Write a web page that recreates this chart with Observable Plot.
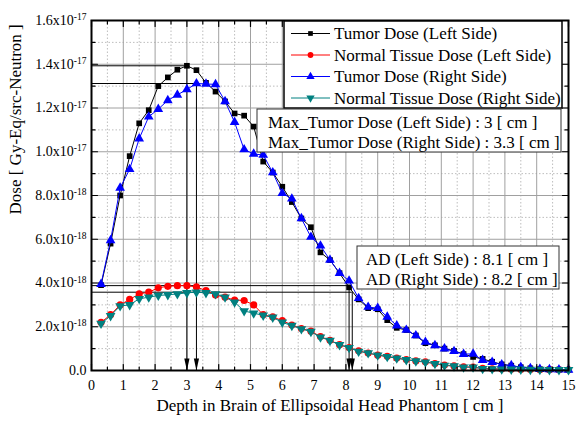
<!DOCTYPE html>
<html><head><meta charset="utf-8">
<script src="https://cdn.jsdelivr.net/npm/d3@7"></script>
<script src="https://cdn.jsdelivr.net/npm/@observablehq/plot@0.6"></script>
<style>body{margin:0;background:#fff} svg text{font-family:"Liberation Serif",serif;}</style>
</head><body><div id="chart"></div>
<script>
// Depth [cm]
const depth = [0.3,0.6,0.9,1.2,1.5,1.8,2.1,2.4,2.7,3.0,3.3,3.6,3.9,4.2,4.5,4.8,5.1,5.4,5.7,6.0,
  6.3,6.6,6.9,7.2,7.5,7.8,8.1,8.4,8.7,9.0,9.3,9.6,9.9,10.2,10.5,10.8,11.1,11.4,11.7,12.0,
  12.3,12.6,12.9,13.2,13.5,13.8,14.1,14.4,14.7,15.0];
// Dose values in units of 1e-18 Gy-Eq/src-Neutron
const tumorLeft = [3.9,5.8,8.0,9.8,11.3,11.9,13.0,13.4,13.75,13.93,13.73,13.15,12.75,12.3,11.75,11.65,11.15,9.55,9.05,8.4,
  7.7,6.95,6.55,5.4,5.05,4.45,3.8,3.25,2.85,2.8,2.3,1.95,1.85,1.6,1.25,1.15,1.0,0.9,0.75,0.62,
  0.53,0.4,0.28,0.22,0.15,0.1,0.06,0.05,0.04,0.03];
const normalLeft = [2.2,2.55,3.0,3.25,3.5,3.58,3.78,3.85,3.88,3.88,3.82,3.65,3.45,3.35,3.22,3.2,3.0,2.55,2.45,2.28,
  2.08,1.92,1.8,1.55,1.38,1.18,1.05,0.9,0.8,0.7,0.65,0.57,0.5,0.44,0.4,0.32,0.25,0.21,0.17,0.15,
  0.1,0.08,0.07,0.06,0.05,0.05,0.04,0.04,0.03,0.03];
const tumorRight = [3.95,5.95,8.35,9.2,10.6,11.6,11.95,12.35,12.6,12.85,13.12,13.1,13.08,12.3,11.35,10.1,9.9,9.85,9.05,8.1,
  7.85,6.95,6.1,5.7,5.05,4.45,4.1,3.3,2.9,2.85,2.45,2.05,1.85,1.6,1.3,1.15,1.0,0.88,0.75,0.76,
  0.47,0.38,0.27,0.23,0.15,0.1,0.06,0.05,0.04,0.03];
const normalRight = [2.15,2.5,2.95,3.0,3.28,3.35,3.43,3.46,3.5,3.55,3.58,3.55,3.5,3.35,3.12,2.72,2.62,2.52,2.43,2.2,
  2.05,1.9,1.78,1.52,1.37,1.17,1.04,0.87,0.8,0.7,0.63,0.56,0.49,0.43,0.38,0.31,0.23,0.2,0.15,0.15,
  0.08,0.07,0.06,0.05,0.05,0.04,0.04,0.03,0.03,0.03];

const seriesNames = ["Tumor Dose (Left Side)","Normal Tissue Dose (Left Side)","Tumor Dose (Right Side)","Normal Tissue Dose (Right Side)"];
const seriesColors = ["#000000","#ff0000","#0000ff","#008080"];

const xTicks = [0,1,2,3,4,5,6,7,8,9,10,11,12,13,14,15];
const xMinorTicks = [0.5,1.5,2.5,3.5,4.5,5.5,6.5,7.5,8.5,9.5,10.5,11.5,12.5,13.5,14.5];
const yTicks = [0,2,4,6,8,10,12,14,16];
const yMinorTicks = [1,3,5,7,9,11,13,15];
const yTickMantissa = ["0.0","2.0","4.0","6.0","8.0","1.0","1.2","1.4","1.6"];
const yTickExponent = ["","-18","-18","-18","-18","-17","-17","-17","-17"];

const maxTumorDepth = [3, 3.3];   // Max_Tumor Dose depths [cm]
const adDepth = [8.1, 8.2];       // AD depths [cm]
const sideNames = ["Left Side", "Right Side"];

const xLabel = "Depth in Brain of Ellipsoidal Head Phantom [ cm ]";
const yLabel = "Dose [ Gy-Eq/src-Neutron ]";

// tables built from the arrays
const rows = depth.map((x, i) => ({x, tl: tumorLeft[i], nl: normalLeft[i], tr: tumorRight[i], nr: normalRight[i]}));
const guides = [
  {x: maxTumorDepth[0], y: d3.max(tumorLeft)},
  {x: maxTumorDepth[1], y: d3.max(tumorRight)},
  {x: adDepth[0], y: d3.max(normalLeft)},
  {x: adDepth[1], y: d3.max(normalRight)}
];

const font = "Liberation Serif";
const tickShape = {draw(ctx, l) { ctx.moveTo(0, 0); ctx.lineTo(0, -l); }};
const arrowHead = {draw(ctx) { ctx.moveTo(0, 0); ctx.lineTo(-2.6, -12); ctx.lineTo(2.6, -12); ctx.closePath(); }};

function series(key, color, symbol, r, extra = {}) {
  return [
    Plot.line(rows, {x: "x", y: key, stroke: color, strokeWidth: 1}),
    Plot.dot(rows, {x: "x", y: key, fill: color, stroke: "none", symbol, r, ...extra})
  ];
}

const tk = (data, o) => Plot.vector(data, {anchor: "start", shape: tickShape, stroke: "black", strokeWidth: 1.2, ...o});

const chart = Plot.plot({
  width: 576,
  height: 421,
  marginLeft: 91,
  marginRight: 8,
  marginTop: 20,
  marginBottom: 51,
  style: "font-family: 'Liberation Serif', serif; font-size: 14px; background: white; color: black;",
  x: {domain: [0, 15]},
  y: {domain: [0, 16]},
  marks: [
    Plot.ruleX(xMinorTicks, {stroke: "#bdbdbd", strokeDasharray: "1.5,2"}),
    Plot.ruleY(yMinorTicks, {stroke: "#bdbdbd", strokeDasharray: "1.5,2"}),
    Plot.ruleX(xTicks, {stroke: "#a0a0a0"}),
    Plot.ruleY(yTicks, {stroke: "#a0a0a0"}),
    Plot.axisX({ticks: xTicks, tickSize: 0, tickPadding: 10, label: null, tickFormat: d => String(d), fontSize: 14}),
    Plot.axisY({ticks: yTicks, tickSize: 0, tickPadding: 5, label: null, fontSize: 14,
      tickFormat: d => { const i = yTicks.indexOf(d); return yTickExponent[i] ? yTickMantissa[i] + "x10^" + yTickExponent[i] : yTickMantissa[i]; }}),
    Plot.text([xLabel], {frameAnchor: "bottom", dy: 40, fontSize: 17, fill: "black"}),
    Plot.text([yLabel], {frameAnchor: "left", dx: -76, dy: 19, rotate: -90, fontSize: 17, fill: "black"}),
    Plot.ruleY(guides, {y: "y", x1: 0, x2: "x", stroke: "black", strokeWidth: 1}),
    Plot.ruleX(guides, {x: "x", y1: 0, y2: "y", stroke: "black", strokeWidth: 1}),
    Plot.dot(guides, {x: "x", y: 0, symbol: arrowHead, fill: "black", stroke: "none", r: 3}),
    ...series("tl", seriesColors[0], "square", 3.2),
    ...series("nl", seriesColors[1], "circle", 3.6),
    ...series("tr", seriesColors[2], "triangle", 3.6),
    ...series("nr", seriesColors[3], "triangle", 3.6, {rotate: 180}),
    tk(xTicks, {x: d => d, y: 0, length: 6, rotate: 0}),
    tk(xMinorTicks, {x: d => d, y: 0, length: 3.5, rotate: 0}),
    tk(xTicks, {x: d => d, y: 16, length: 6, rotate: 180}),
    tk(xMinorTicks, {x: d => d, y: 16, length: 3.5, rotate: 180}),
    tk(yTicks, {x: 0, y: d => d, length: 6, rotate: 90}),
    tk(yMinorTicks, {x: 0, y: d => d, length: 3.5, rotate: 90}),
    tk(yTicks, {x: 15, y: d => d, length: 6, rotate: 270}),
    tk(yMinorTicks, {x: 15, y: d => d, length: 3.5, rotate: 270}),
    Plot.frame({stroke: "black", strokeWidth: 2})
  ]
});

document.getElementById("chart").appendChild(chart);
const svg = d3.select(chart);
svg.style("font-family", "'Liberation Serif', serif");

// superscript exponents on y tick labels
svg.selectAll('g[aria-label="y-axis tick label"] text').each(function() {
  const t = d3.select(this);
  const s = t.text();
  if (!s.includes("^")) return;
  const [a, b] = s.split("^");
  t.text(a);
  t.append("tspan").attr("dy", "-0.5em").attr("font-size", "9.5px").text(b);
});

function addText(g, x, y, str) {
  return g.append("text").attr("x", x).attr("y", y)
    .attr("text-anchor", "start").style("text-anchor", "start")
    .attr("font-family", font).style("font-family", "'Liberation Serif', serif")
    .attr("font-size", 17).attr("fill", "black").text(str);
}

// Legend box
const lg = svg.append("g");
lg.append("rect").attr("x", 284).attr("y", 21).attr("width", 278).attr("height", 87)
  .attr("fill", "white").attr("stroke", "black").attr("stroke-width", 1.5);
const symbols = [d3.symbolSquare, d3.symbolCircle, d3.symbolTriangle, d3.symbolTriangle];
const symSize = [22, 26, 30, 30];
seriesNames.forEach((name, i) => {
  const cy = 33.5 + i * 21.5;
  lg.append("line").attr("x1", 291).attr("x2", 330).attr("y1", cy).attr("y2", cy)
    .attr("stroke", seriesColors[i]).attr("stroke-width", 1);
  lg.append("path").attr("d", d3.symbol(symbols[i], symSize[i])())
    .attr("transform", `translate(310.5,${cy})` + (i === 3 ? " rotate(180)" : ""))
    .attr("fill", seriesColors[i]);
  addText(lg, 334, cy, name).attr("dy", "0.35em");
});

// Max tumor dose box
const mb = svg.append("g");
mb.append("rect").attr("x", 257).attr("y", 109).attr("width", 304).attr("height", 43)
  .attr("fill", "white").attr("stroke", "#333").attr("stroke-width", 1);
maxTumorDepth.forEach((d, i) => {
  addText(mb, 268, 128 + i * 20, `Max_Tumor Dose (${sideNames[i]}) : ${d} [ cm ]`);
});

// AD box
const ab = svg.append("g");
ab.append("rect").attr("x", 357).attr("y", 246).attr("width", 202).attr("height", 43)
  .attr("fill", "white").attr("stroke", "#333").attr("stroke-width", 1);
adDepth.forEach((d, i) => {
  addText(ab, 366, 264.5 + i * 20, `AD (${sideNames[i]}) : ${d} [ cm ]`);
});
</script>
</body></html>
